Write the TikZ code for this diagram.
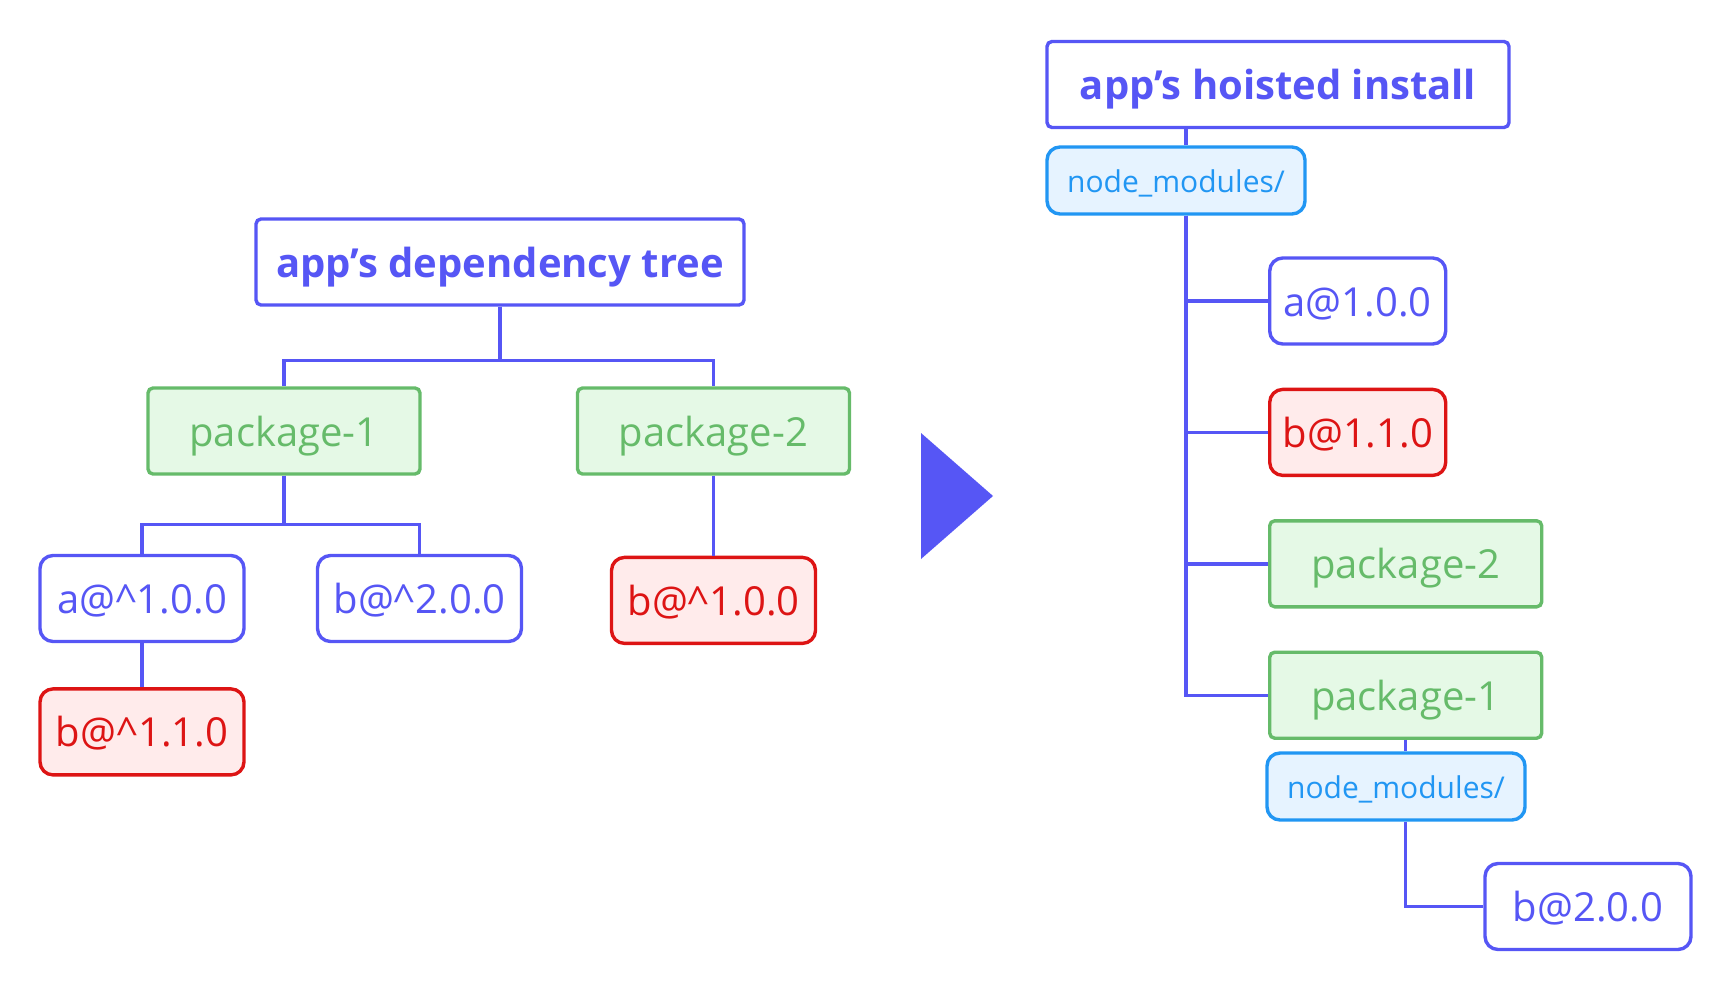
\documentclass[tikz,border=0pt]{standalone}
\usepackage{fontspec}
\setmainfont{Open Sans}
\usetikzlibrary{positioning}
\definecolor{ink}{HTML}{5656F5}
\definecolor{leaf}{HTML}{66BB6A}
\definecolor{leafbg}{HTML}{E5F9E6}
\definecolor{alert}{HTML}{DD1414}
\definecolor{alertbg}{HTML}{FFEBEB}
\definecolor{sky}{HTML}{2196F3}
\definecolor{skybg}{HTML}{E6F3FF}
\begin{document}
\begin{tikzpicture}[
    every node/.style={rectangle, line width=1.7pt, inner sep=0pt, minimum height=43pt, text height=18pt, text depth=3pt, align=center, font=\fontsize{20}{24}\selectfont},
    title/.style={draw=ink, text=ink, fill=white, rounded corners=2.5pt, font=\fontsize{20}{24}\selectfont\bfseries},
    pkg/.style={draw=leaf, fill=leafbg, text=leaf, rounded corners=2.5pt, minimum width=136pt},
    dep/.style={draw=ink, fill=white, text=ink, rounded corners=6.5pt},
    clash/.style={draw=alert, fill=alertbg, text=alert, rounded corners=6.5pt},
    folder/.style={draw=sky, fill=skybg, text=sky, rounded corners=6.5pt, minimum width=129pt, minimum height=33.5pt, text height=14pt, text depth=2.5pt, font=\fontsize{15}{18}\selectfont},
    link/.style={draw=ink, line width=1.7pt}
]
\useasboundingbox (0,0) rectangle (864pt,-498pt);

% dependency tree
\node[title, minimum width=244pt] (deptree) at (250pt,-131pt) {app’s dependency tree};
\node[pkg] (pkgA) at (142pt,-215.5pt) {package-1};
\node[pkg] (pkgB) at (356.75pt,-215.5pt) {package-2};
\node[dep, minimum width=102pt] (a1) at (71pt,-299.25pt) {a@\textasciicircum1.0.0};
\node[dep, minimum width=102pt] (b2) at (209.75pt,-299.25pt) {b@\textasciicircum2.0.0};
\node[clash, minimum width=102pt, below=40pt of pkgB] (b10) {b@\textasciicircum1.0.0};
\node[clash, minimum width=102pt, below=22pt of a1] (b11) {b@\textasciicircum1.1.0};

\draw[link] (deptree.south) -- ++(0,-27pt) -| (pkgA.north);
\draw[link] (deptree.south) -- ++(0,-27pt) -| (pkgB.north);
\draw[link] (pkgA.south) -- ++(0,-24.5pt) -| (a1.north);
\draw[link] (pkgA.south) -- ++(0,-24.5pt) -| (b2.north);
\draw[link] (pkgB) -- (b10);
\draw[link] (a1) -- (b11);

% arrow
\fill[ink] (460.5pt,-216.5pt) -- (460.5pt,-279.5pt) -- (496.5pt,-248pt) -- cycle;

% hoisted install
\node[title, minimum width=231pt] (hoist) at (639pt,-42.25pt) {app’s hoisted install};
\node[folder] (nmTop) at (588pt,-90.25pt) {node\_modules/};
\coordinate (spine) at (593pt,0);
\node[dep, minimum width=88pt, anchor=west] (a1r) at (634pt,-150.5pt) {a@1.0.0};
\node[clash, minimum width=88pt, below right=21pt and 0pt of a1r.south west] (b11r) {b@1.1.0};
\node[pkg, below right=21pt and 0pt of b11r.south west] (pkgBr) {package-2};
\node[pkg, below right=21pt and 0pt of pkgBr.south west] (pkgAr) {package-1};
\node[folder] (nmSub) at (698pt,-393.25pt) {node\_modules/};
\node[dep, minimum width=103pt] (b2r) at (794pt,-453.25pt) {b@2.0.0};

\draw[link] (hoist.south -| spine) -- (nmTop.north -| spine);
\draw[link] (nmTop.south -| spine) |- (a1r.west);
\draw[link] (nmTop.south -| spine) |- (b11r.west);
\draw[link] (nmTop.south -| spine) |- (pkgBr.west);
\draw[link] (nmTop.south -| spine) |- (pkgAr.west);
\draw[link] (pkgAr.south) -- (pkgAr.south |- nmSub.north);
\draw[link] (nmSub.south -| pkgAr) |- (b2r.west);
\end{tikzpicture}
\end{document}
